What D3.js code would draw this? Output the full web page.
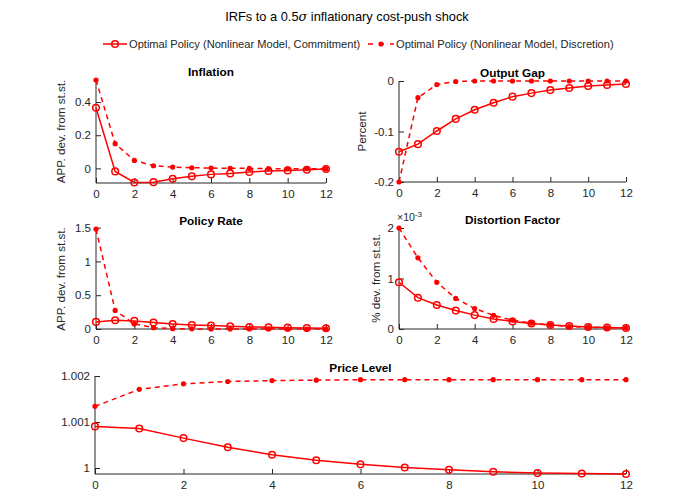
<!DOCTYPE html>
<html>
<head>
<meta charset="utf-8">
<script src="https://cdn.jsdelivr.net/npm/d3@7"></script>
<style>
  body { margin: 0; background: #fff; }
  text { font-family: "Liberation Sans", Arial, sans-serif; }
</style>
</head>
<body>
<svg id="fig" width="687" height="491"></svg>
<script>
var periods = d3.range(0, 13);
var xTicks = [0, 2, 4, 6, 8, 10, 12];

// values
var inflationCommit = [0.366, -0.018, -0.085, -0.083, -0.063, -0.048, -0.036, -0.030, -0.022, -0.016, -0.012, -0.008, -0.004];
var inflationDiscr  = [0.533, 0.149, 0.048, 0.016, 0.008, 0.004, 0.002, 0.001, 0.000, -0.001, -0.002, -0.002, -0.003];
var gapCommit = [-0.140, -0.125, -0.099, -0.075, -0.057, -0.043, -0.031, -0.024, -0.018, -0.014, -0.010, -0.008, -0.006];
var gapDiscr  = [-0.200, -0.033, -0.007, -0.001, 0, 0, 0, 0, 0, 0, 0, 0, 0];
var rateCommit = [0.105, 0.13, 0.12, 0.095, 0.075, 0.06, 0.05, 0.04, 0.03, 0.025, 0.02, 0.015, 0.01];
var rateDiscr  = [1.48, 0.275, 0.075, 0.02, 0.005, 0.002, 0.001, 0, 0, 0, 0, 0, 0];
var distCommit = [0.925, 0.62, 0.475, 0.365, 0.275, 0.20, 0.15, 0.11, 0.08, 0.06, 0.04, 0.03, 0.02];
var distDiscr  = [2.0, 1.41, 0.925, 0.605, 0.405, 0.27, 0.175, 0.115, 0.08, 0.05, 0.035, 0.025, 0.02];
var priceCommit = [1.000905, 1.00086, 1.00065, 1.00045, 1.00029, 1.00017, 1.00008, 1.00001, 0.99996, 0.99992, 0.99989, 0.99988, 0.99987];
var priceDiscr  = [1.00134, 1.00171, 1.00183, 1.00188, 1.0019, 1.00191, 1.00192, 1.00192, 1.00192, 1.00192, 1.00192, 1.00192, 1.00192];

var seriesNames = ["Optimal Policy (Nonlinear Model, Commitment)", "Optimal Policy (Nonlinear Model, Discretion)"];

var red = "#ff0000", ink = "#262626";
var svg = d3.select("#fig");

// matlab style: plain hyphen for minus
function plain(f) { return function (v) { return f(v).replace("\u2212", "-"); }; }

var panels = [
  {title: "Inflation", ylabel: "APP. dev. from st.st.", c: inflationCommit, d: inflationDiscr,
   x0: 96, x1: 326, y0: 80, y1: 183, dom: [-0.088, 0.533], ticks: [0, 0.2, 0.4], fmt: plain(d3.format("~g")), lx: 65},
  {title: "Output Gap", ylabel: "Percent", c: gapCommit, d: gapDiscr,
   x0: 399, x1: 626, y0: 81, y1: 182, dom: [-0.2, 0], ticks: [-0.2, -0.1, 0], fmt: plain(d3.format("~g")), lx: 366},
  {title: "Policy Rate", ylabel: "APP. dev. from st.st.", c: rateCommit, d: rateDiscr,
   x0: 96, x1: 326, y0: 229, y1: 329, dom: [0, 1.48], ticks: [0, 0.5, 1, 1.5], fmt: plain(d3.format("~g")), lx: 65},
  {title: "Distortion Factor", ylabel: "% dev. from st.st.", c: distCommit, d: distDiscr,
   x0: 399, x1: 626, y0: 228, y1: 329, dom: [0, 2], ticks: [0, 1, 2], fmt: plain(d3.format("~g")), lx: 380, exp: true},
  {title: "Price Level", ylabel: null, c: priceCommit, d: priceDiscr,
   x0: 95, x1: 626, y0: 376, y1: 474, dom: [0.99987, 1.002], ticks: [1, 1.001, 1.002], fmt: d3.format(".3~f")}
];

// figure title
var tt = svg.append("text").attr("x", 347).attr("y", 21).attr("text-anchor", "middle")
  .attr("font-size", 12.8).attr("fill", "#000");
tt.append("tspan").text("IRFs to a 0.5");
tt.append("tspan").attr("font-style", "italic").attr("font-family", "DejaVu Serif, serif").text("\u03c3");
tt.append("tspan").text(" inflationary cost-push shock");

// legend
var lg = svg.append("g").attr("transform", "translate(0,44)");
lg.append("line").attr("x1", 103).attr("x2", 127).attr("stroke", red).attr("stroke-width", 1.5);
lg.append("circle").attr("cx", 115).attr("r", 3.3).attr("fill", "none").attr("stroke", red).attr("stroke-width", 1.5);
lg.append("text").attr("x", 129).attr("y", 4).attr("font-size", 11.1).attr("fill", ink).text(seriesNames[0]);
lg.append("line").attr("x1", 368).attr("x2", 394).attr("stroke", red).attr("stroke-width", 1.5).attr("stroke-dasharray", "5,6");
lg.append("circle").attr("cx", 381).attr("r", 2.6).attr("fill", red);
lg.append("text").attr("x", 396).attr("y", 4).attr("font-size", 11.1).attr("fill", ink).text(seriesNames[1]);

panels.forEach(function (p) {
  var x = d3.scaleLinear().domain([0, 12]).range([p.x0, p.x1]);
  var y = d3.scaleLinear().domain(p.dom).range([p.y1, p.y0]);
  var g = svg.append("g");

  var xa = g.append("g").attr("transform", "translate(0," + p.y1 + ")")
    .call(d3.axisBottom(x).tickValues(xTicks).tickSize(-5).tickPadding(7).tickFormat(d3.format("d")));
  var ya = g.append("g").attr("transform", "translate(" + p.x0 + ",0)")
    .call(d3.axisLeft(y).tickValues(p.ticks).tickSize(-5).tickPadding(5).tickFormat(p.fmt));
  [xa, ya].forEach(function (a) {
    a.select(".domain").attr("stroke", ink).attr("stroke-width", 1).attr("d",
      a === xa ? "M" + p.x0 + ",0H" + p.x1 : "M0," + p.y1 + "V" + p.y0);
    a.selectAll(".tick line").attr("stroke", ink);
    a.selectAll("text").attr("fill", ink).attr("font-size", 11.5).attr("font-family", "Liberation Sans, Arial, sans-serif");
  });

  g.append("text").attr("x", (p.x0 + p.x1) / 2).attr("y", p.y0 - 4).attr("text-anchor", "middle")
    .attr("font-size", 11.8).attr("font-weight", "bold").attr("fill", "#000").text(p.title);

  if (p.ylabel) {
    g.append("text").attr("transform", "translate(" + p.lx + "," + ((p.y0 + p.y1) / 2) + ") rotate(-90)")
      .attr("text-anchor", "middle").attr("font-size", 11.6).attr("fill", ink).text(p.ylabel);
  }
  if (p.exp) {
    var ex = g.append("text").attr("x", p.x0 - 2).attr("y", p.y0 - 7).attr("font-size", 10.5).attr("fill", ink);
    ex.append("tspan").text("\u00d710");
    ex.append("tspan").attr("font-size", 8).attr("dy", -4).text("-3");
  }

  var line = d3.line().x(function (d, i) { return x(periods[i]); }).y(function (d) { return y(d); });

  g.append("path").datum(p.d).attr("d", line).attr("fill", "none").attr("stroke", red)
    .attr("stroke-width", 1.5).attr("stroke-dasharray", "5,4");
  g.selectAll(".dd").data(p.d).enter().append("circle")
    .attr("cx", function (d, i) { return x(periods[i]); }).attr("cy", function (d) { return y(d); })
    .attr("r", 2.6).attr("fill", red);

  g.append("path").datum(p.c).attr("d", line).attr("fill", "none").attr("stroke", red).attr("stroke-width", 1.5);
  g.selectAll(".cc").data(p.c).enter().append("circle")
    .attr("cx", function (d, i) { return x(periods[i]); }).attr("cy", function (d) { return y(d); })
    .attr("r", 3.3).attr("fill", "none").attr("stroke", red).attr("stroke-width", 1.5);
});
</script>
</body>
</html>
